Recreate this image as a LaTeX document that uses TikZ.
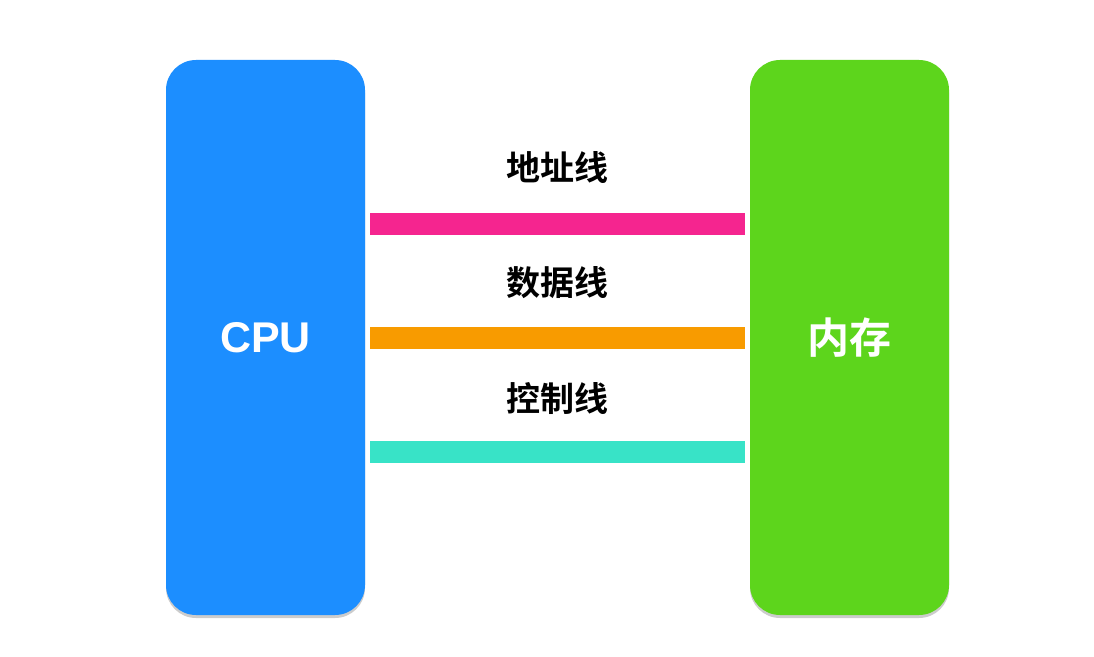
\documentclass[tikz,border=0pt]{standalone}
\usepackage{fontspec}
\setmainfont{Liberation Sans}
\newfontfamily\cjk{Noto Sans CJK SC}[BoldFont={Noto Sans CJK SC Bold}]
\usetikzlibrary{shadows}
\definecolor{cpublue}{RGB}{28,142,255}
\definecolor{memgreen}{RGB}{93,213,28}
\definecolor{addrpink}{RGB}{245,37,143}
\definecolor{dataorange}{RGB}{248,155,0}
\definecolor{ctrlteal}{RGB}{56,227,199}
\tikzset{
  unit/.style={rounded corners=30pt, minimum width=199pt, minimum height=555pt,
    inner sep=0pt, text=white, font=\bfseries,
    drop shadow={shadow xshift=0pt, shadow yshift=-3pt, opacity=0.2, fill=black}},
  bus/.style={line width=22pt, line cap=butt},
  buslabel/.style={font=\cjk\bfseries\fontsize{34}{37}\selectfont, text=black}
}
\begin{document}
\begin{tikzpicture}[x=1pt,y=1pt]
\useasboundingbox (0,0) rectangle (1094,656);
\fill[white] (0,0) rectangle (1094,656);
\node[unit, fill=cpublue] (cpu) at (265.5,318.5) {\fontsize{43}{47}\selectfont CPU};
\node[unit, fill=memgreen] (mem) at (849.5,318.5) {\cjk\bfseries\fontsize{42}{46}\selectfont 内存};
\draw[bus, addrpink] ([xshift=5pt,yshift=113.5pt]cpu.east) -- ([xshift=-5pt,yshift=113.5pt]mem.west);
\draw[bus, dataorange] ([xshift=5pt,yshift=-0.5pt]cpu.east) -- ([xshift=-5pt,yshift=-0.5pt]mem.west);
\draw[bus, ctrlteal] ([xshift=5pt,yshift=-114.5pt]cpu.east) -- ([xshift=-5pt,yshift=-114.5pt]mem.west);
\node[buslabel] (addr) at (557.5,488) {地址线};
\node[buslabel] (data) at (557.5,373) {数据线};
\node[buslabel] (ctrl) at (557.5,258) {控制线};
\end{tikzpicture}
\end{document}
